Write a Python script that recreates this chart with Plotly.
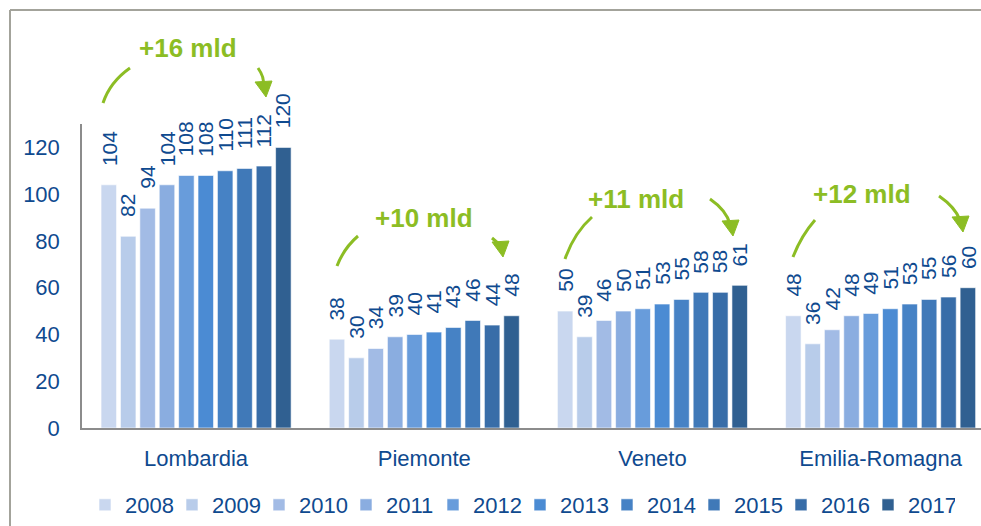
import plotly.graph_objects as go

regions = ['Lombardia', 'Piemonte', 'Veneto', 'Emilia-Romagna']
years = ['2008', '2009', '2010', '2011', '2012', '2013', '2014', '2015', '2016', '2017']
lombardia = [104, 82, 94, 104, 108, 108, 110, 111, 112, 120]
piemonte = [38, 30, 34, 39, 40, 41, 43, 46, 44, 48]
veneto = [50, 39, 46, 50, 51, 53, 55, 58, 58, 61]
emilia = [48, 36, 42, 48, 49, 51, 53, 55, 56, 60]
growth = ['+16 mld', '+10 mld', '+11 mld', '+12 mld']
colors = ['#C9D7EF', '#B8CCEA', '#A2BBE5', '#8AADE0', '#689CDB',
          '#4B8BD3', '#4682C5', '#4079B8', '#386DA8', '#306091']

text_col = '#0F4A8F'
green = '#8CBD24'
font = 'Liberation Sans, Arial, sans-serif'

W, H = 981, 526
L, T, B = 82, 124, 98
PW = W - L
PH = H - T - B
bargap = 0.15


def px(x):
    return (x - L) / PW


def py(y):
    return (H - B - y) / PH


values = [lombardia, piemonte, veneto, emilia]

fig = go.Figure()
for i, yr in enumerate(years):
    fig.add_trace(go.Bar(
        x=regions, y=[v[i] for v in values], name=yr,
        marker=dict(color=colors[i], line=dict(color='white', width=0.6)),
    ))

# value labels, rotated, above each bar
slot = (1 - bargap) / len(years)
for c, vals in enumerate(values):
    for i, v in enumerate(vals):
        fig.add_annotation(
            x=c - (1 - bargap) / 2 + slot * (i + 0.5), y=v, text=str(v),
            textangle=-90, showarrow=False, xanchor='center', yanchor='bottom',
            yshift=17, font=dict(size=21, color=text_col, family=font),
        )

# green growth notes with curved arrows (pixel positions of the decoration)
notes = [
    dict(t=(188, 48), a=(103, 103, 110, 82, 130, 68), b=(258, 68, 265, 78, 266, 97)),
    dict(t=(424, 218), a=(337, 266, 344, 248, 358, 236), b=(492, 238, 499, 244, 503, 257)),
    dict(t=(636, 199), a=(565, 259, 574, 233, 592, 217), b=(710, 199, 726, 210, 733, 236)),
    dict(t=(862, 194), a=(793, 257, 801, 236, 815, 220), b=(939, 196, 955, 207, 963, 232)),
]
for n, g in zip(notes, growth):
    fig.add_annotation(
        x=px(n['t'][0]), y=py(n['t'][1]), xref='paper', yref='paper', text='<b>' + g + '</b>',
        showarrow=False, xanchor='center', yanchor='middle',
        font=dict(size=26, color=green, family=font),
    )
    for seg, head in ((n['a'], False), (n['b'], True)):
        x0, y0, cx, cy, x1, y1 = seg
        if head:
            y1e = y1 - 12
            x1e = x1 - 3
        else:
            x1e, y1e = x1, y1
        path = 'M {} {} Q {} {} {} {}'.format(px(x0), py(y0), px(cx), py(cy), px(x1e), py(y1e))
        fig.add_shape(type='path', path=path, xref='paper', yref='paper',
                      line=dict(color=green, width=3))
        if head:
            tri = 'M {} {} L {} {} L {} {} Z'.format(
                px(x1), py(y1), px(x1 - 11), py(y1 - 15), px(x1 + 6), py(y1 - 16))
            fig.add_shape(type='path', path=tri, xref='paper', yref='paper',
                          line=dict(color=green, width=1), fillcolor=green)

# outer frame (left and top edges visible)
fig.add_shape(type='line', xref='paper', yref='paper', x0=px(10), x1=px(W + 5), y0=py(10), y1=py(10),
              line=dict(color='#A3A39B', width=2))
fig.add_shape(type='line', xref='paper', yref='paper', x0=px(10), x1=px(10), y0=py(10), y1=py(H + 5),
              line=dict(color='#A3A39B', width=2))

fig.update_layout(
    width=W, height=H,
    margin=dict(l=L, r=0, t=T, b=B),
    plot_bgcolor='white', paper_bgcolor='white',
    barmode='group', bargap=bargap, bargroupgap=0.2,
    font=dict(family=font, color=text_col),
    showlegend=True,
    legend=dict(orientation='h', x=px(85), xanchor='left', y=py(505), yanchor='middle',
                font=dict(size=22, color=text_col), itemwidth=30,
                entrywidth=42, entrywidthmode='pixels', tracegroupgap=0),
    xaxis=dict(range=[-0.5, 3.44], showline=True, linecolor='#8C8C8C', linewidth=2,
               ticks='', tickfont=dict(size=22, color=text_col), ticklabelstandoff=10),
    yaxis=dict(range=[0, 130], tickvals=[0, 20, 40, 60, 80, 100, 120], showgrid=False,
               zeroline=False, showline=True, linecolor='#8C8C8C', linewidth=1.5,
               ticks='', tickfont=dict(size=22, color=text_col), ticklabelstandoff=16),
)

fig.write_html("out.html", config={'displayModeBar': False},
               post_script="document.body.style.margin='0';")
